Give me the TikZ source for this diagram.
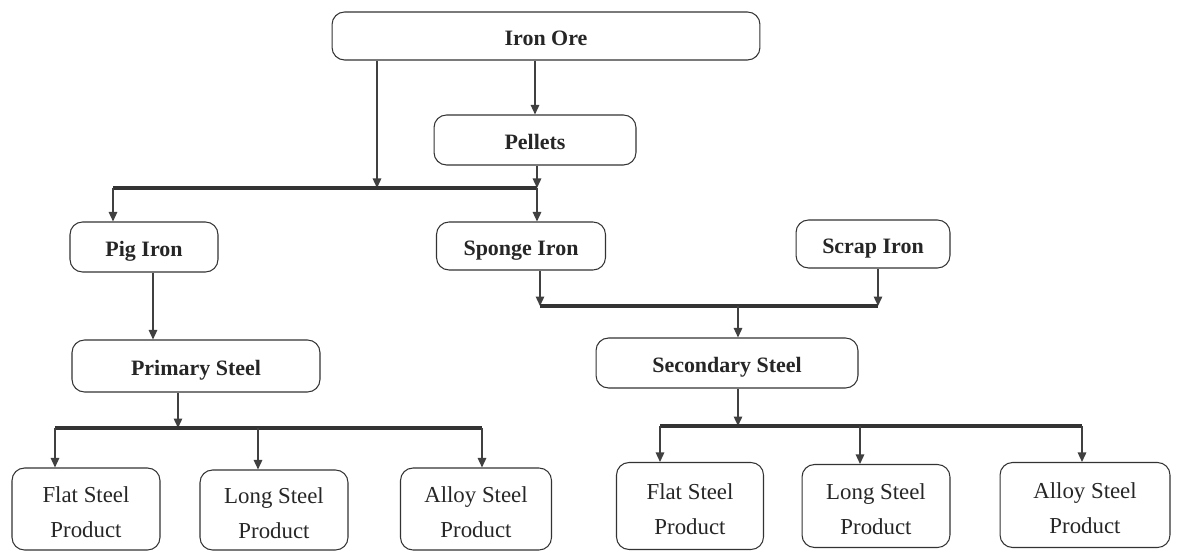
\documentclass[tikz,border=0pt]{standalone}
\usepackage{fontspec}
\setmainfont{Liberation Serif}
\usetikzlibrary{arrows.meta}

\tikzset{
  box/.style={draw=black!80, semithick, rounded corners=2.5mm, inner sep=0pt,
    font=\fontsize{12.5}{15}\selectfont\bfseries, text=black!85,
    text height=12pt, text depth=1.5pt},
  prod/.style={box, font=\fontsize{13}{20}\selectfont, align=center,
    text height=33pt, text depth=0pt},
  bar/.style={draw=black!80, line width=2.2pt},
  link/.style={draw=black!75, line width=0.8pt, ->}
}

\begin{document}
\begin{tikzpicture}[x=0.02cm, y=-0.02cm, line join=round, >={Triangle[length=1.9mm,width=1.7mm]}]
	\useasboundingbox (0,0) rectangle (1182,553);
	% Boxes
	\node[box, minimum width=8.56cm, minimum height=0.96cm] (ore) at (546,36) {Iron Ore};
	\node[box, minimum width=4.04cm, minimum height=1cm] (pel) at (535,140) {Pellets};
	\node[box, minimum width=2.96cm, minimum height=1cm] (pig) at (144,247) {Pig Iron};
	\node[box, minimum width=3.38cm, minimum height=0.96cm] (sponge) at (521,246) {Sponge Iron};
	\node[box, minimum width=3.08cm, minimum height=0.96cm] (scrap) at (873,244) {Scrap Iron};
	\node[box, minimum width=4.96cm, minimum height=1.04cm] (prim) at (196,366) {Primary Steel};
	\node[box, minimum width=5.24cm, minimum height=1cm] (sec) at (727,363) {Secondary Steel};
	\node[prod, minimum width=2.96cm, minimum height=1.64cm] (flatL) at (86,509) {Flat Steel\\Product};
	\node[prod, minimum width=2.96cm, minimum height=1.6cm] (longL) at (274,510) {Long Steel\\Product};
	\node[prod, minimum width=3.02cm, minimum height=1.64cm] (alloyL) at (476,509) {Alloy Steel\\Product};
	\node[prod, minimum width=2.94cm, minimum height=1.74cm] (flatR) at (690,506) {Flat Steel\\Product};
	\node[prod, minimum width=2.96cm, minimum height=1.66cm] (longR) at (876,506) {Long Steel\\Product};
	\node[prod, minimum width=3.4cm, minimum height=1.7cm] (alloyR) at (1085,505) {Alloy Steel\\Product};
	% Junctions on the bars
	\coordinate (t1) at (113,188); \coordinate (t2) at (537,188); \coordinate (t3) at (377,188);
	\coordinate (m1) at (540,306); \coordinate (m2) at (878,306); \coordinate (m3) at (738,306);
	\coordinate (l0) at (178,428); \coordinate (l1) at (55,428); \coordinate (l2) at (258,428); \coordinate (l3) at (482,428);
	\coordinate (r0) at (738,426); \coordinate (r1) at (660,426); \coordinate (r2) at (860,426); \coordinate (r3) at (1082,426);
	% Top
	\draw[link] (ore.south -| pel.north) -- (pel.north);
	\draw[link] (t3 |- ore.south) -- (t3);
	\draw[link] (pel.south -| t2) -- (t2);
	\draw[bar] (t1) -- (t2);
	\draw[link] (t1) -- (t1 |- pig.north);
	\draw[link] (t2) -- (t2 |- sponge.north);
	% Middle
	\draw[link] (sponge.south -| m1) -- (m1);
	\draw[link] (scrap.south -| m2) -- (m2);
	\draw[bar] (m1) -- (m2);
	\draw[link] (m3) -- (m3 |- sec.north);
	\draw[link] ([xshift=0.18cm]pig.south) -- ([xshift=0.18cm]pig.south |- prim.north);
	% Bottom left
	\draw[link] (prim.south -| l0) -- (l0);
	\draw[bar] (l1) -- (l3);
	\draw[link] (l1) -- (l1 |- flatL.north);
	\draw[link] (l2) -- (l2 |- longL.north);
	\draw[link] (l3) -- (l3 |- alloyL.north);
	% Bottom right
	\draw[link] (sec.south -| r0) -- (r0);
	\draw[bar] (r1) -- (r3);
	\draw[link] (r1) -- (r1 |- flatR.north);
	\draw[link] (r2) -- (r2 |- longR.north);
	\draw[link] (r3) -- (r3 |- alloyR.north);
\end{tikzpicture}
\end{document}
